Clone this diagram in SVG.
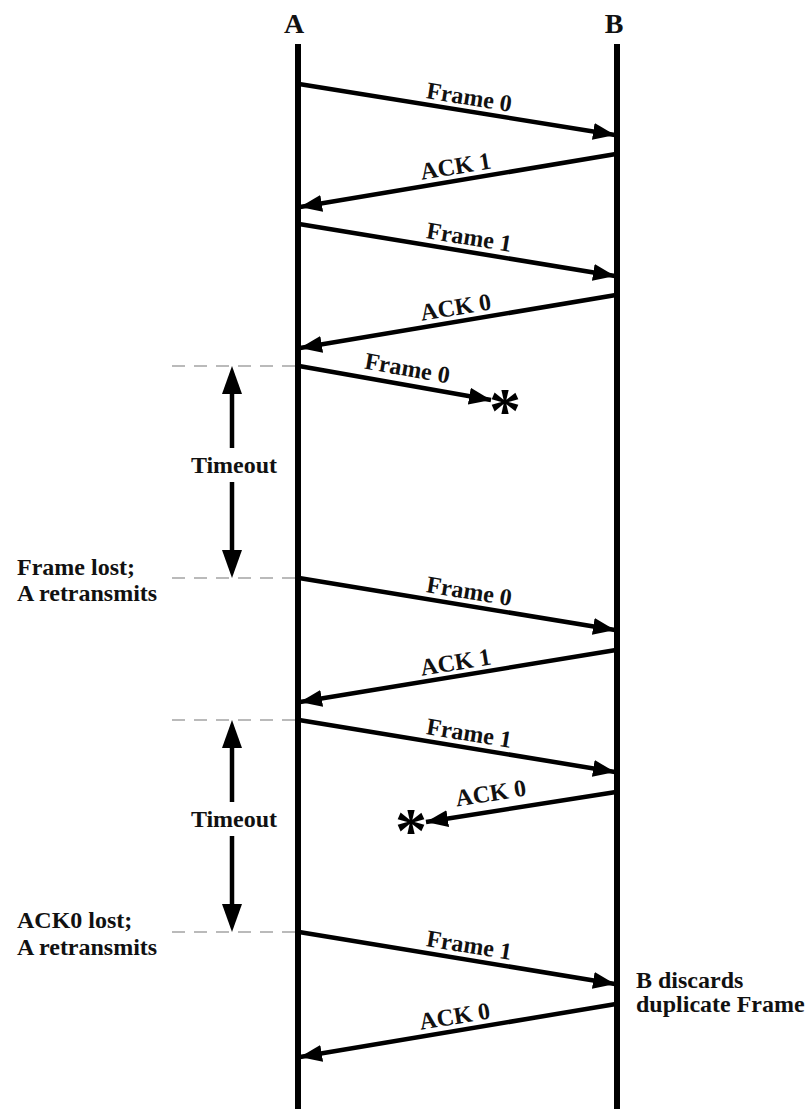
<svg xmlns="http://www.w3.org/2000/svg" width="807" height="1109" viewBox="0 0 807 1109">
<style>
.t{font-family:"Liberation Serif","Times New Roman",serif;font-weight:bold;fill:#111;}
.lbl{font-size:24px;}
.hdr{font-size:28px;}
.life{stroke:#000;stroke-width:6;fill:none;}
.msg{stroke:#000;stroke-width:4.5;fill:none;marker-end:url(#ah);}
.dash{stroke:#777;stroke-width:1.2;stroke-dasharray:13,9;fill:none;}
.tmo{stroke:#000;stroke-width:4.5;fill:none;}
.star{font-family:"Liberation Serif",serif;font-weight:bold;font-size:64px;fill:#000;}
</style>
<defs>
<marker id="ah" markerUnits="userSpaceOnUse" markerWidth="24" markerHeight="18" refX="22" refY="8.5" orient="auto">
<path d="M0,0 L22,8.5 L0,17 z" fill="#000"/>
</marker>
</defs>
<g id="nodeA">
<text class="t hdr" x="294" y="33" text-anchor="middle">A</text>
<line class="life" x1="298" y1="44" x2="298" y2="1109"/>
</g>
<g id="nodeB">
<text class="t hdr" x="614" y="33" text-anchor="middle">B</text>
<line class="life" x1="617" y1="44" x2="617" y2="1109"/>
</g>
<g id="guides">
<line class="dash" x1="172" y1="366" x2="296" y2="366"/>
<line class="dash" x1="172" y1="578" x2="296" y2="578"/>
<line class="dash" x1="172" y1="720" x2="296" y2="720"/>
<line class="dash" x1="172" y1="932" x2="296" y2="932"/>
</g>
<g id="timeouts">
<line class="tmo" x1="232" y1="380" x2="232" y2="448"/>
<path d="M222,394 L232,366 L242,394 z"/>
<line class="tmo" x1="232" y1="482" x2="232" y2="564"/>
<path d="M222,550 L232,578 L242,550 z"/>
<text class="t lbl" x="234" y="473" text-anchor="middle">Timeout</text>
<line class="tmo" x1="232" y1="734" x2="232" y2="802"/>
<path d="M222,748 L232,720 L242,748 z"/>
<line class="tmo" x1="232" y1="836" x2="232" y2="918"/>
<path d="M222,904 L232,932 L242,904 z"/>
<text class="t lbl" x="234" y="827" text-anchor="middle">Timeout</text>
</g>
<g id="notes">
<text class="t lbl" x="17" y="575">Frame lost;</text>
<text class="t lbl" x="17" y="601">A retransmits</text>
<text class="t lbl" x="17" y="928">ACK0 lost;</text>
<text class="t lbl" x="17" y="955">A retransmits</text>
<text class="t lbl" x="636" y="988">B discards</text>
<text class="t lbl" x="636" y="1012">duplicate Frame</text>
</g>
<g id="lost">
<text class="star" x="505" y="432" text-anchor="middle">*</text>
<text class="star" x="411" y="852" text-anchor="middle">*</text>
</g>
<g id="connectors">
<line class="msg" x1="299" y1="84" x2="615" y2="135"/>
<line class="msg" x1="616" y1="154" x2="300" y2="207"/>
<line class="msg" x1="299" y1="224" x2="615" y2="276"/>
<line class="msg" x1="616" y1="295" x2="300" y2="348"/>
<line class="msg" x1="299" y1="366" x2="491" y2="400"/>
<line class="msg" x1="299" y1="578" x2="615" y2="630"/>
<line class="msg" x1="616" y1="650" x2="300" y2="702"/>
<line class="msg" x1="299" y1="720" x2="615" y2="772"/>
<line class="msg" x1="616" y1="792" x2="426" y2="822"/>
<line class="msg" x1="299" y1="932" x2="615" y2="984"/>
<line class="msg" x1="616" y1="1004" x2="300" y2="1057"/>
</g>
<g id="msglabels">
<text class="t lbl" transform="translate(468,105) rotate(9.3)" text-anchor="middle">Frame 0</text>
<text class="t lbl" transform="translate(457,174) rotate(-9.4)" text-anchor="middle">ACK 1</text>
<text class="t lbl" transform="translate(468,245) rotate(9.3)" text-anchor="middle">Frame 1</text>
<text class="t lbl" transform="translate(457,315) rotate(-9.4)" text-anchor="middle">ACK 0</text>
<text class="t lbl" transform="translate(406,376) rotate(10)" text-anchor="middle">Frame 0</text>
<text class="t lbl" transform="translate(468,599) rotate(9.3)" text-anchor="middle">Frame 0</text>
<text class="t lbl" transform="translate(457,670) rotate(-9.4)" text-anchor="middle">ACK 1</text>
<text class="t lbl" transform="translate(468,741) rotate(9.3)" text-anchor="middle">Frame 1</text>
<text class="t lbl" transform="translate(492,801) rotate(-9)" text-anchor="middle">ACK 0</text>
<text class="t lbl" transform="translate(468,953) rotate(9.3)" text-anchor="middle">Frame 1</text>
<text class="t lbl" transform="translate(456,1024) rotate(-9.4)" text-anchor="middle">ACK 0</text>
</g>
</svg>
